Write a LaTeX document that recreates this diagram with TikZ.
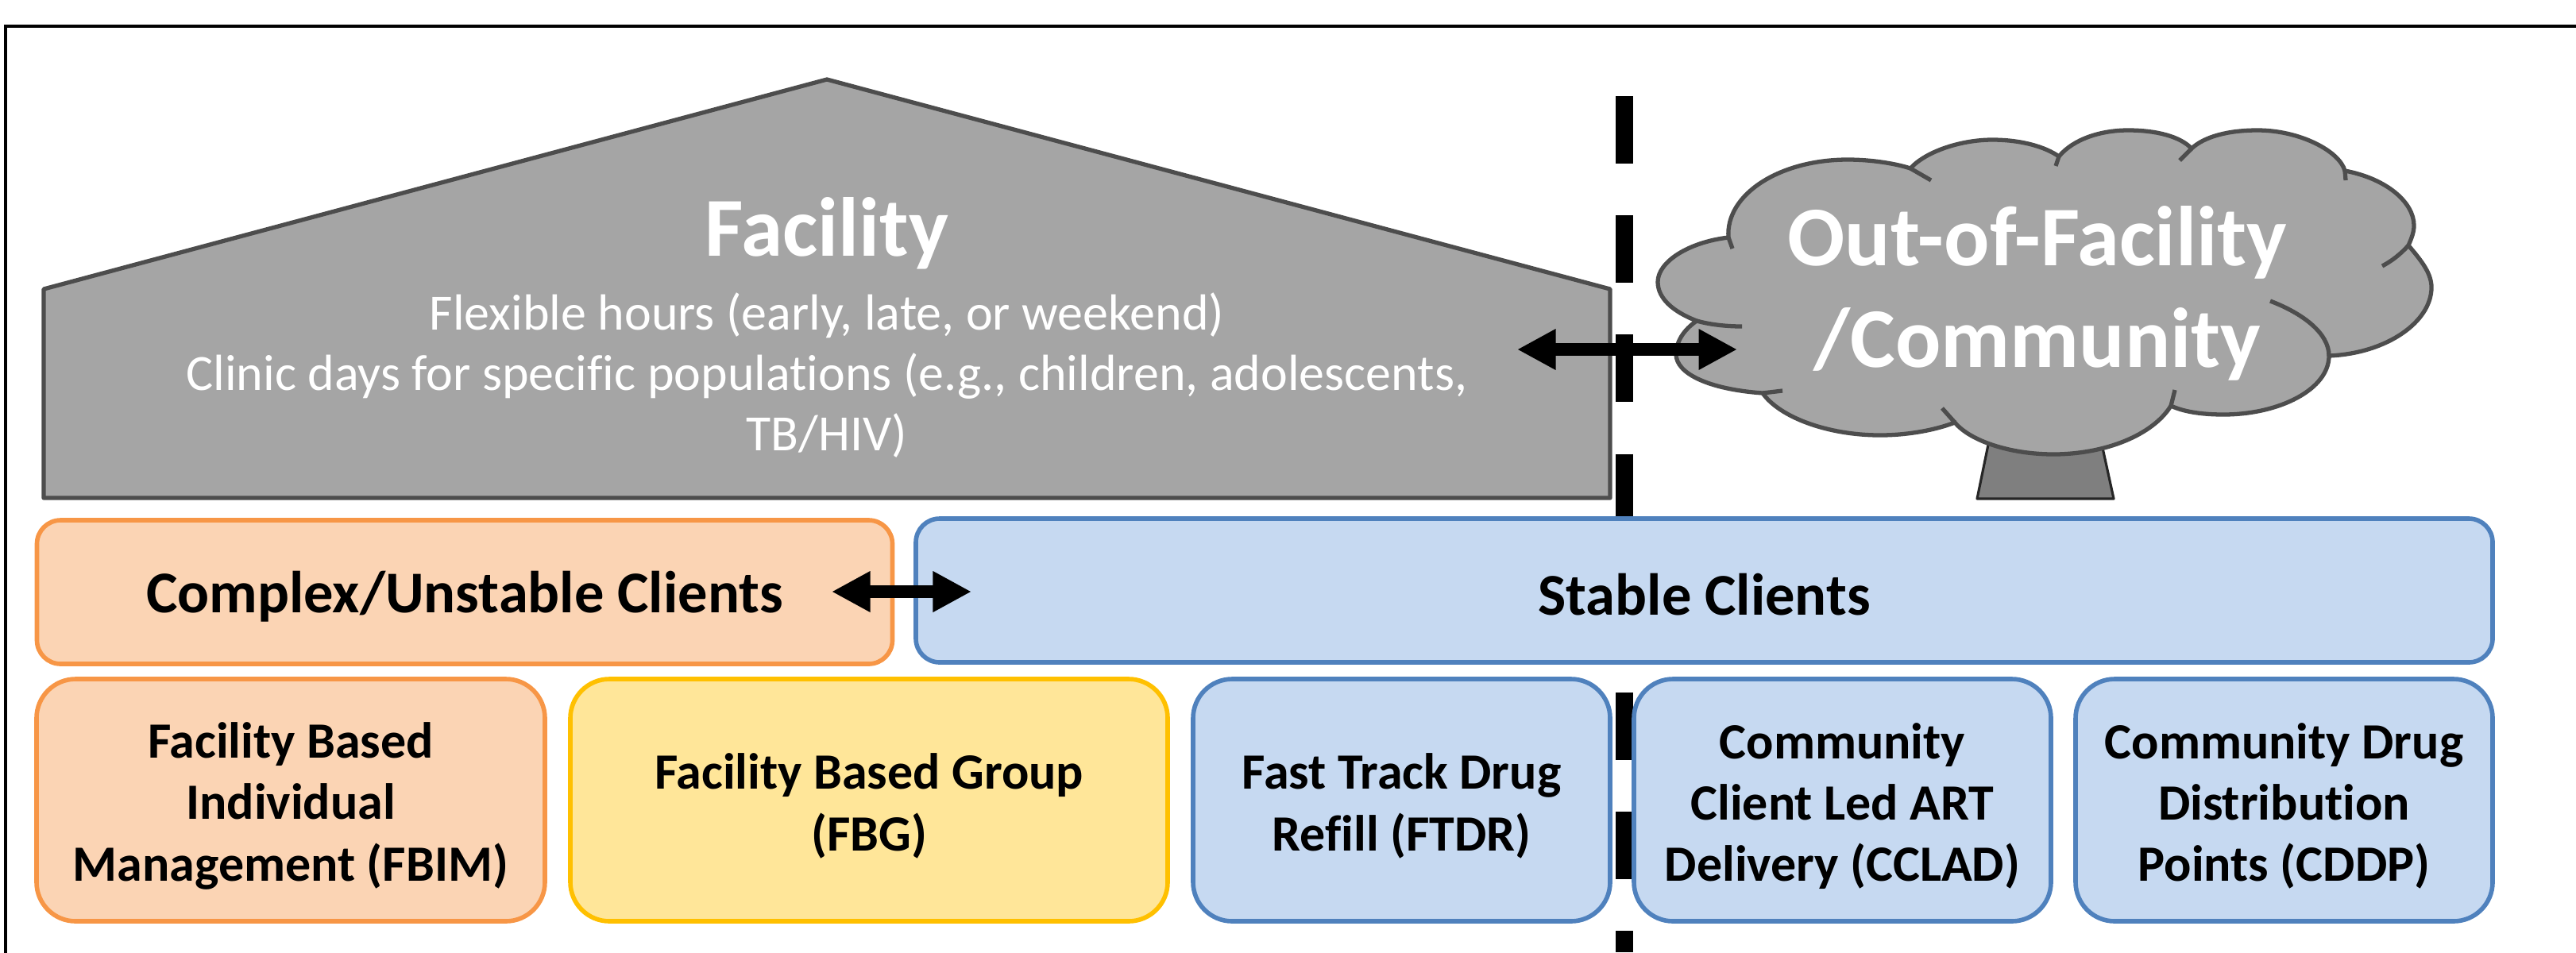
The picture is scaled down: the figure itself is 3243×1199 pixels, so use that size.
\documentclass[tikz,border=0pt]{standalone}
\usepackage{fontspec}
\setmainfont[Ligatures=NoCommon]{Carlito}
\usetikzlibrary{arrows.meta}
\definecolor{shapegray}{HTML}{A5A5A5}
\definecolor{edgegray}{HTML}{4D4D4D}
\definecolor{trunkgray}{HTML}{7F7F7F}
\definecolor{orangefill}{HTML}{FBD4B4}
\definecolor{orangeedge}{HTML}{F79646}
\definecolor{yellowfill}{HTML}{FFE699}
\definecolor{yellowedge}{HTML}{FFC000}
\definecolor{bluefill}{HTML}{C6D9F1}
\definecolor{blueedge}{HTML}{4F81BD}
\newcommand{\droptext}{\rule{0pt}{17pt}}
\tikzset{
  client/.style={draw,line width=1.6pt,rounded corners=8.5pt,inner sep=0pt,align=center,font=\bfseries\fontsize{21.2}{25}\selectfont,execute at begin node={\rule{0pt}{18pt}}},
  model/.style={draw,line width=1.6pt,rounded corners=14pt,inner sep=0pt,align=center,font=\bfseries\fontsize{18.2}{22}\selectfont},
  orangebox/.style={fill=orangefill,draw=orangeedge},
  yellowbox/.style={fill=yellowfill,draw=yellowedge},
  bluebox/.style={fill=bluefill,draw=blueedge},
  swap/.style={line width=4.5pt,{Triangle[length=13.8pt,width=13.7pt]}-{Triangle[length=13.8pt,width=13.7pt]}},
  cloudline/.style={line width=1.5pt,draw=edgegray},
}
\begin{document}
\begin{tikzpicture}[x=.01cm,y=-.01cm]
    \useasboundingbox (0,0) rectangle (3243,1199);
    % outer frame, runs off the page on two sides
    \begin{scope}
    \clip (0,0) rectangle (3243,1199);
    \draw[line width=1.3pt] (7,33) rectangle (3300,1300);
    \end{scope}
    % border between facility and community
    \coordinate (bordertop) at (2045,121);
    \coordinate (borderend) at (2045,1199);
    \draw[line width=6.2pt,dash pattern=on 24.2pt off 18.5pt] (bordertop) -- (borderend);
    % house
    \draw[line width=1.5pt,draw=edgegray,fill=shapegray,line join=round] (55,364) -- (1041,100) -- (2027,364) -- (2027,627) -- (55,627) -- cycle;
    \node[text=white,font=\bfseries\fontsize{30}{36}\selectfont] (facility) at (1041,294) {Facility};
    \node[text=white,font=\fontsize{18.2}{21.6}\selectfont,align=center,anchor=north] (hours) at (1041,356) {Flexible hours (early, late, or weekend)\\Clinic days for specific populations (e.g., children, adolescents,\\TB/HIV)};
    % tree
    \draw[line width=.9pt,draw=black!85,fill=trunkgray,line join=round] (2504,555) -- (2489,628) -- (2661,628) -- (2645,555) -- cycle;
    \draw[cloudline,fill=shapegray]
      (2405,212) .. controls (2425,190) and (2470,176) .. (2508,176) .. controls (2545,176) and (2575,185) .. (2592,197)
      .. controls (2610,175) and (2645,164) .. (2679,164) .. controls (2715,164) and (2745,172) .. (2759,187)
      .. controls (2775,172) and (2805,164) .. (2842,164) .. controls (2895,164) and (2945,190) .. (2952,215)
      .. controls (3005,225) and (3039,255) .. (3039,284) .. controls (3039,292) and (3036,300) .. (3032,309)
      .. controls (3050,330) and (3061,345) .. (3061,362) .. controls (3061,405) and (3005,445) .. (2932,448)
      .. controls (2932,490) and (2870,522) .. (2799,522) .. controls (2770,522) and (2748,518) .. (2733,511)
      .. controls (2710,548) and (2650,572) .. (2585,572) .. controls (2530,572) and (2480,555) .. (2461,532)
      .. controls (2435,542) and (2400,548) .. (2367,548) .. controls (2300,548) and (2240,525) .. (2219,495)
      .. controls (2150,490) and (2110,470) .. (2110,446) .. controls (2110,430) and (2120,415) .. (2136,404)
      .. controls (2105,392) and (2087,375) .. (2087,355) .. controls (2087,330) and (2125,305) .. (2176,299)
      .. controls (2172,245) and (2240,201) .. (2326,201) .. controls (2360,201) and (2390,207) .. (2405,212) -- cycle;
    \draw[cloudline] (2405,212) -- (2431,227);
    \draw[cloudline] (2592,197) -- (2588,209);
    \draw[cloudline] (2759,187) -- (2744,202);
    \draw[cloudline] (2952,215) -- (2953,227);
    \draw[cloudline] (3032,309) .. controls (3022,320) and (3012,328) .. (2999,335);
    \draw[cloudline] (2932,448) .. controls (2932,420) and (2900,395) .. (2858,379);
    \draw[cloudline] (2733,511) -- (2738,491);
    \draw[cloudline] (2461,532) -- (2445,514);
    \draw[cloudline] (2219,495) -- (2244,492);
    \draw[cloudline] (2136,404) .. controls (2150,408) and (2170,411) .. (2193,411);
    \draw[cloudline] (2176,299) -- (2181,313);
    \node[text=white,font=\bfseries\fontsize{30.4}{36}\selectfont] (outfac) at (2565,305) {Out-of-Facility};
    \node[text=white,font=\bfseries\fontsize{30.4}{36}\selectfont] (community) at (2565,433) {/Community};
    % client groups
    \node[client,orangebox,minimum width=1077*.01cm,minimum height=181*.01cm] (complex) at (585,745.5) {Complex/Unstable Clients};
    \node[client,bluebox,minimum width=1985*.01cm,minimum height=181*.01cm] (stable) at (2145.5,743.5) {Stable Clients};
    % models
    \node[model,orangebox,minimum width=640*.01cm,minimum height=305*.01cm] (fbim) at (366,1007.5) {\droptext Facility Based\\Individual\\Management (FBIM)};
    \node[model,yellowbox,minimum width=752*.01cm,minimum height=305*.01cm] (fbg) at (1094,1007.5) {\droptext Facility Based Group\\(FBG)};
    \node[model,bluebox,minimum width=525*.01cm,minimum height=305*.01cm] (ftdr) at (1764.5,1007.5) {\droptext Fast Track Drug\\Refill (FTDR)};
    \node[model,bluebox,minimum width=525*.01cm,minimum height=305*.01cm] (cclad) at (2319.5,1007.5) {\droptext Community\\Client Led ART\\Delivery (CCLAD)};
    \node[model,bluebox,minimum width=525*.01cm,minimum height=305*.01cm] (cddp) at (2875.5,1007.5) {\droptext Community Drug\\Distribution\\Points (CDDP)};
    % arrows
    \coordinate (houseend) at (1910,440);
    \coordinate (cloudend) at (2187,440);
    \coordinate (complexend) at (1047,745);
    \coordinate (stableend) at (1223,745);
    \draw[swap] (houseend) -- (cloudend);
    \draw[swap] (complexend) -- (stableend);
\end{tikzpicture}
\end{document}
